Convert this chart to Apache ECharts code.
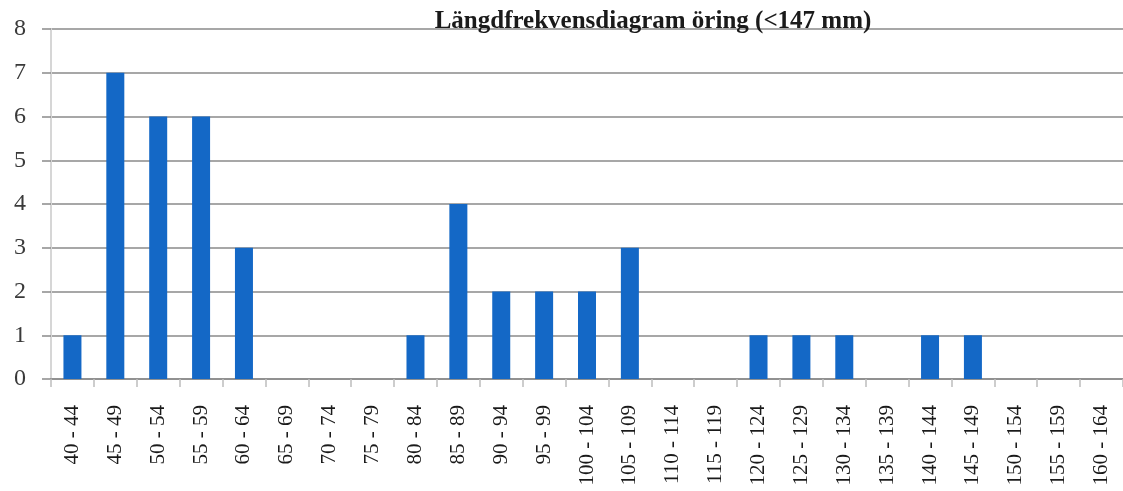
<!DOCTYPE html>
<html>
<head>
<meta charset="utf-8">
<script src="https://cdn.jsdelivr.net/npm/echarts@6/dist/echarts.min.js"></script>
<style>
  html, body { margin: 0; padding: 0; background: #ffffff; }
  #chart { width: 1123px; height: 491px; }
</style>
</head>
<body>
<div id="chart"></div>
<script>
// Length classes (mm) and number of trout caught in each class
const lengthClasses = [
  '40 - 44', '45 - 49', '50 - 54', '55 - 59', '60 - 64', '65 - 69', '70 - 74',
  '75 - 79', '80 - 84', '85 - 89', '90 - 94', '95 - 99', '100 - 104', '105 - 109',
  '110 - 114', '115 - 119', '120 - 124', '125 - 129', '130 - 134', '135 - 139',
  '140 - 144', '145 - 149', '150 - 154', '155 - 159', '160 - 164'
];
const counts = [1, 7, 6, 6, 3, 0, 0, 0, 1, 4, 2, 2, 2, 3, 0, 0, 1, 1, 1, 0, 1, 1, 0, 0, 0];
const yTicks = [0, 1, 2, 3, 4, 5, 6, 7, 8];

const serif = '"Liberation Serif", "DejaVu Serif", serif';

const chart = echarts.init(document.getElementById('chart'));
chart.setOption({
  animation: false,
  backgroundColor: '#ffffff',
  title: {
    text: 'Längdfrekvensdiagram öring (<147 mm)',
    left: 648,
    top: 4,
    textAlign: 'center',
    textStyle: {
      fontFamily: serif,
      fontWeight: 'bold',
      fontSize: 25,
      color: '#1a1a1a'
    }
  },
  grid: {
    left: 51,
    top: 29,
    width: 1079,
    bottom: 112,
    containLabel: false
  },
  xAxis: {
    type: 'category',
    data: lengthClasses,
    boundaryGap: true,
    axisLine: { show: true, lineStyle: { color: '#8a8a8a', width: 1.5 } },
    axisTick: { show: true, length: 8, alignWithLabel: false, lineStyle: { color: '#bdbdbd', width: 1.5 } },
    axisLabel: {
      interval: 0,
      rotate: 90,
      margin: 26,
      fontFamily: serif,
      fontSize: 21,
      color: '#1a1a1a'
    },
    splitLine: { show: false }
  },
  yAxis: {
    type: 'value',
    min: yTicks[0],
    max: yTicks[yTicks.length - 1],
    interval: 1,
    axisLine: { show: true, lineStyle: { color: '#d6d6d6', width: 2 } },
    axisTick: { show: true, inside: false, length: 9, lineStyle: { color: '#8a8a8a', width: 1.5 } },
    axisLabel: {
      margin: 25,
      fontFamily: serif,
      fontSize: 24,
      color: '#3a3a3a'
    },
    splitLine: { show: true, lineStyle: { color: '#8a8a8a', width: 1.5 } }
  },
  series: [{
    type: 'bar',
    data: counts,
    barWidth: 18,
    itemStyle: { color: '#1468C6' }
  }]
});
</script>
</body>
</html>
